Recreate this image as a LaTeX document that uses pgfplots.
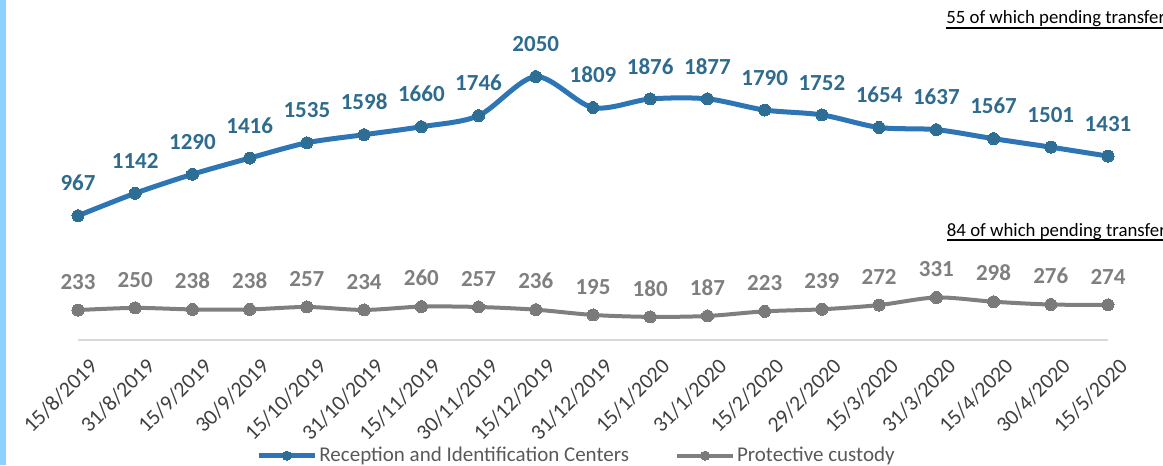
\documentclass[border=0pt]{standalone}
\usepackage{fontspec}
\setmainfont{Carlito}
\usepackage{pgfplots}
\pgfplotsset{compat=1.18}
\definecolor{ricline}{HTML}{2E75B6}
\definecolor{ricmark}{HTML}{2F6E94}
\definecolor{riclab}{HTML}{2E6B8E}
\definecolor{pcline}{HTML}{7F7F7F}
\definecolor{pcmark}{HTML}{7A7A7A}
\definecolor{pclab}{HTML}{7F7F7F}
\definecolor{axgray}{HTML}{D9D9D9}
\definecolor{sidebar}{HTML}{8DD2FF}
\definecolor{ticktxt}{HTML}{404040}
\definecolor{legtxt}{HTML}{595959}
\begin{document}
\begin{tikzpicture}
\useasboundingbox (0,0) rectangle (872.25pt,348.75pt);
\clip (0,0) rectangle (872.25pt,348.75pt);
\fill[sidebar] (0,0) rectangle (4.5pt,348.75pt);
\begin{axis}[
  at={(58.5pt,93.75pt)}, anchor=south west,
  scale only axis, width=772.5pt, height=240.9pt,
  xmin=0, xmax=18, ymin=0, ymax=2500,
  axis y line=none, axis x line*=bottom,
  x axis line style={axgray, line width=1.1pt, -},
  xtick={0,...,18},
  xticklabels={15/8/2019,31/8/2019,15/9/2019,30/9/2019,15/10/2019,31/10/2019,15/11/2019,30/11/2019,15/12/2019,31/12/2019,15/1/2020,31/1/2020,15/2/2020,29/2/2020,15/3/2020,31/3/2020,15/4/2020,30/4/2020,15/5/2020},
  major tick length=0pt,
  xticklabel style={rotate=45, anchor=north east, inner sep=0pt, font=\fontsize{16.3}{18}\selectfont, text=ticktxt, yshift=-14pt, xshift=-3.5pt},
  /pgf/number format/1000 sep={},
  /pgf/number format/assume math mode=true,
  clip=false,
  legend columns=2,
  legend style={at={(0.484,-0.3602)}, anchor=center, draw=none, fill=none,
    font=\fontsize{15.75}{18}\selectfont, text=legtxt, nodes={inner sep=1.5pt},
    /tikz/every even column/.append style={column sep=33pt}},
  legend image code/.code={\draw[#1, mark size=3.4pt, mark repeat=2, mark phase=2] plot coordinates {(0pt,0pt)(21pt,0pt)(42pt,0pt)};},
]
\addplot[ricline, line width=3.75pt, smooth, tension=0.5, mark=*, mark size=4.5pt,
  mark options={fill=ricmark, draw=ricmark, line width=0pt},
  nodes near coords={\pgfmathprintnumber[1000 sep={},assume math mode=true]{\pgfplotspointmeta}},
  every node near coord/.append style={anchor=south, inner sep=0pt, yshift=18.5pt, text=riclab, font=\bfseries\fontsize{17.25}{20}\selectfont}]
coordinates {(0,967)(1,1142)(2,1290)(3,1416)(4,1535)(5,1598)(6,1660)(7,1746)(8,2050)(9,1809)(10,1876)(11,1877)(12,1790)(13,1752)(14,1654)(15,1637)(16,1567)(17,1501)(18,1431)};
\addlegendentry{Reception and Identification Centers}
\addplot[pcline, line width=3pt, smooth, tension=0.5, mark=*, mark size=4.5pt,
  mark options={fill=pcmark, draw=pcmark, line width=0pt},
  nodes near coords={\pgfmathprintnumber[1000 sep={},assume math mode=true]{\pgfplotspointmeta}},
  every node near coord/.append style={anchor=south, inner sep=0pt, yshift=15.5pt, text=pclab, font=\bfseries\fontsize{17.25}{20}\selectfont}]
coordinates {(0,233)(1,250)(2,238)(3,238)(4,257)(5,234)(6,260)(7,257)(8,236)(9,195)(10,180)(11,187)(12,223)(13,239)(14,272)(15,331)(16,298)(17,276)(18,274)};
\addlegendentry{Protective custody}
\end{axis}
\node[anchor=base west, inner sep=0pt, font=\fontsize{14.1}{16}\selectfont] (n1) at (709.5pt,330.75pt) {55 of which pending transfer};
\draw[line width=0.9pt] ([yshift=-3pt]n1.base west) -- ([yshift=-3pt]n1.base east);
\node[anchor=base west, inner sep=0pt, font=\fontsize{14.1}{16}\selectfont] (n2) at (710pt,171.75pt) {84 of which pending transfer};
\draw[line width=0.9pt] ([yshift=-3pt]n2.base west) -- ([yshift=-3pt]n2.base east);
\end{tikzpicture}
\end{document}
